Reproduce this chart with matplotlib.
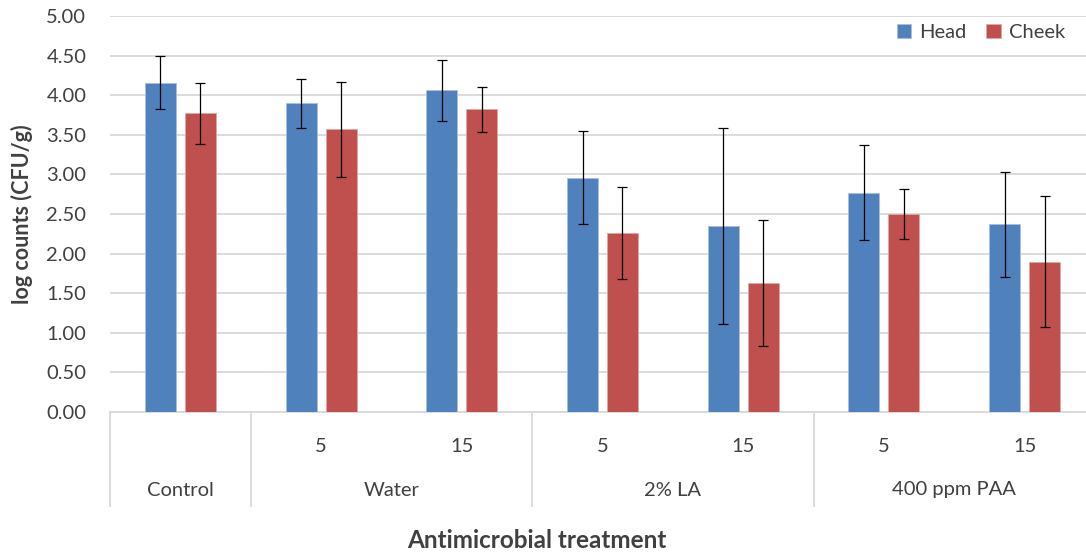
import matplotlib
matplotlib.use("Agg")
import matplotlib.pyplot as plt
import numpy as np

# data
sub_labels = ["", "5", "15", "5", "15", "5", "15"]
group_labels = ["Control", "Water", "2% LA", "400 ppm PAA"]
group_spans = [(0, 0), (1, 2), (3, 4), (5, 6)]

head = [4.16, 3.90, 4.06, 2.96, 2.35, 2.77, 2.37]
head_err = [0.34, 0.31, 0.38, 0.59, 1.24, 0.60, 0.66]
cheek = [3.77, 3.57, 3.82, 2.26, 1.63, 2.50, 1.90]
cheek_err = [0.38, 0.60, 0.28, 0.58, 0.80, 0.31, 0.83]

BLUE = "#4F81BD"
RED = "#C0504D"
GRID = "#D9D9D9"
TEXT = "#404040"

plt.rcParams["font.family"] = ["Lato", "DejaVu Sans"]

W, H = 1086, 552
fig = plt.figure(figsize=(W / 100, H / 100), dpi=100)
# axes spans past the right edge, as in the reference
ax = fig.add_axes([110 / W, (H - 412) / H, (1095 - 110) / W, (412 - 16) / H])

x = np.arange(len(head))
bw = 0.22
off = 0.142
err_kw = dict(ecolor="black", elinewidth=0.9, capsize=3.9, capthick=0.9)
ax.bar(x - off, head, bw, color=BLUE, edgecolor="#A7C0DE", linewidth=0.6,
       yerr=head_err, error_kw=err_kw, label="Head", zorder=3)
ax.bar(x + off, cheek, bw, color=RED, edgecolor="#E0A8A6", linewidth=0.6,
       yerr=cheek_err, error_kw=err_kw, label="Cheek", zorder=3)

ax.set_xlim(-0.5, len(head) - 0.5)
ax.set_ylim(0, 5)
ax.set_yticks(np.arange(0, 5.01, 0.5))
ax.set_yticklabels([f"{v:.2f}" for v in np.arange(0, 5.01, 0.5)], fontsize=14.5, color=TEXT)
ax.tick_params(axis="y", length=0, pad=17)
ax.set_xticks([])
ax.yaxis.grid(True, color=GRID, linewidth=1.3, zorder=0)
ax.set_axisbelow(True)
for s in ["left", "right", "top"]:
    ax.spines[s].set_visible(False)
ax.spines["bottom"].set_color(GRID)
ax.spines["bottom"].set_linewidth(1.3)

# category axis box below the plot
trans = ax.get_xaxis_transform()
depth = -(506 - 412) / (412 - 16)
for b in [-0.5, 0.5, 2.5, 4.5, 6.5]:
    ax.plot([b, b], [0, depth], transform=trans, color=GRID, lw=1.3, clip_on=False)

sub_y = -(446 - 412) / (412 - 16)
grp_y = -(490 - 412) / (412 - 16)
for i, lab in enumerate(sub_labels):
    if lab:
        ax.text(i, sub_y, lab, transform=trans, ha="center", va="center",
                fontsize=14.5, color=TEXT)
for lab, (a, b) in zip(group_labels, group_spans):
    ax.text((a + b) / 2, grp_y, lab, transform=trans, ha="center", va="center",
            fontsize=14.5, color=TEXT)

fig.text(537 / W, (H - 541) / H, "Antimicrobial treatment",
         ha="center", va="center", fontsize=17.5, fontweight="bold", color=TEXT)
fig.text(22 / W, (H - 214) / H, "log counts (CFU/g)", rotation=90,
         ha="center", va="center", fontsize=15.5, fontweight="bold", color=TEXT)

ax.legend(loc="upper right", bbox_to_anchor=((1083 - 110) / (1095 - 110), 1.025),
          ncol=2, frameon=False, fontsize=14.5, handlelength=0.7, handleheight=0.7,
          columnspacing=1.0, handletextpad=0.4, labelcolor=TEXT)

fig.savefig("out.png", dpi=100)
